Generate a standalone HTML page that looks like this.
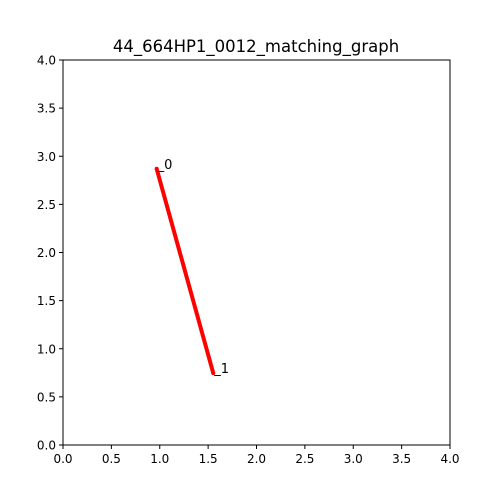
<!DOCTYPE html>
<html><head><meta charset="utf-8"><style>body{margin:0;background:#fff}svg{display:block;font-family:"DejaVu Sans","Liberation Sans",sans-serif}</style></head>
<body>
<svg id="chart" width="500" height="500">
<rect width="500" height="500" fill="#fff"/>
<text x="256" y="52" text-anchor="middle" font-size="16.5">44_664HP1_0012_matching_graph</text>
<g id="ticks"></g>
<g id="edges"></g>
<g id="nodes"></g>
<rect x="63" y="60" width="387" height="385" fill="none" stroke="#000" stroke-width="1"/>
</svg>
<script>
const tickValues=[0,0.5,1,1.5,2,2.5,3,3.5,4];
const tickLabels=["0.0","0.5","1.0","1.5","2.0","2.5","3.0","3.5","4.0"];
const nodeIds=["0","1"];
const nodeX=[0.968,1.553];
const nodeY=[2.87,0.747];
const edgesFrom=[0];
const edgesTo=[1];
const X0=63,X1=450,Y0=445,Y1=60;
const sx=v=>X0+(v-0)/(4-0)*(X1-X0);
const sy=v=>Y0-(v-0)/(4-0)*(Y0-Y1);
const NS="http://www.w3.org/2000/svg";
const tg=document.getElementById('ticks');
function mk(t,a){const e=document.createElementNS(NS,t);for(const k in a)e.setAttribute(k,a[k]);return e;}
tickValues.forEach((v,i)=>{
  const x=sx(v),y=sy(v);
  let l=mk('line',{x1:x,x2:x,y1:Y0,y2:Y0+4,stroke:'#000'});
  
  
  tg.appendChild(l);
  let t=mk('text',{x:x,y:Y0+18,'text-anchor':'middle','font-size':12});
  t.textContent=tickLabels[i];
  
  
  tg.appendChild(t);
  l=mk('line',{x1:X0-4,x2:X0,y1:y,y2:y,stroke:'#000'});
  
  
  tg.appendChild(l);
  t=mk('text',{x:X0-7,y:y+4.5,'text-anchor':'end','font-size':12});
  t.textContent=tickLabels[i];
  
  
  tg.appendChild(t);
});
const eg=document.getElementById('edges');
edgesFrom.forEach((f,i)=>{
  const to=edgesTo[i];
  const l=mk('line',{x1:sx(nodeX[f]),y1:sy(nodeY[f]),x2:sx(nodeX[to]),y2:sy(nodeY[to]),stroke:'#ff0000','stroke-width':4});
  
  
  eg.appendChild(l);
});
const ng=document.getElementById('nodes');
nodeIds.forEach((id,i)=>{
  const x=sx(nodeX[i]),y=sy(nodeY[i]);
  const c=mk('circle',{cx:x,cy:y,r:2,fill:'#ff0000'});
  
  
  ng.appendChild(c);
  const t=mk('text',{x:x+1,y:y,'font-size':13});
  t.textContent='_'+id;
  
  
  ng.appendChild(t);
});
</script>
</body></html>
